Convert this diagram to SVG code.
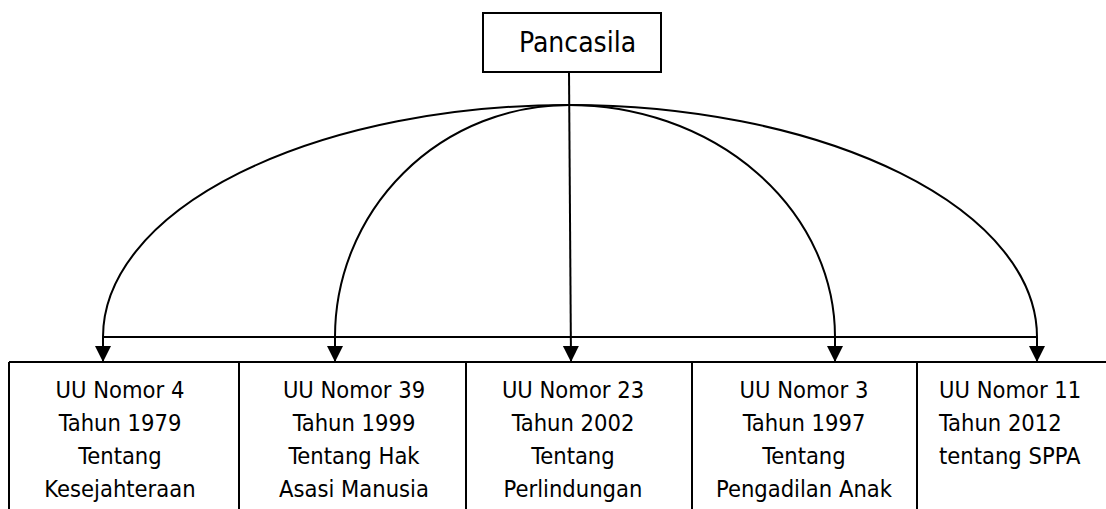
<svg xmlns="http://www.w3.org/2000/svg" width="1106" height="509" viewBox="0 0 1106 509">
<style>
.box{fill:#fff;stroke:#000;stroke-width:2}
.ln{fill:none;stroke:#000;stroke-width:2}
.t{font-family:"DejaVu Sans Condensed","DejaVu Sans",sans-serif;font-stretch:condensed;font-size:23.5px;fill:#000}
.c{text-anchor:middle}
</style>
<defs>
<marker id="ah" markerUnits="userSpaceOnUse" markerWidth="17" markerHeight="17" refX="16" refY="8" orient="auto">
<path d="M0,0 L16,8 L0,16 z" fill="#000"/>
</marker>
</defs>
<rect width="1106" height="509" fill="#fff"/>
<g id="pancasila">
<rect class="box" x="483" y="13" width="178" height="59"/>
<text class="t" x="519" y="52" style="font-size:28px">Pancasila</text>
</g>
<g id="connectors">
<path class="ln" d="M103,337 H1037"/>
<path class="ln" d="M569,105 A466,232 0 0 0 103,337 V362" marker-end="url(#ah)"/>
<path class="ln" d="M569,105 A234,232 0 0 0 335,337 V362" marker-end="url(#ah)"/>
<path class="ln" d="M569,72 L571,362" marker-end="url(#ah)"/>
<path class="ln" d="M569,105 A266,232 0 0 1 835,337 V362" marker-end="url(#ah)"/>
<path class="ln" d="M569,105 A468,232 0 0 1 1037,337 V362" marker-end="url(#ah)"/>
</g>
<g id="row">
<path class="ln" d="M9,362 H1106"/>
</g>
<g id="uu4">
<path class="ln" d="M9,362 V509"/>
<text class="t c" x="120" y="398">UU Nomor 4</text>
<text class="t c" x="120" y="431">Tahun 1979</text>
<text class="t c" x="120" y="464">Tentang</text>
<text class="t c" x="120" y="497">Kesejahteraan</text>
</g>
<g id="uu39">
<path class="ln" d="M239,362 V509"/>
<text class="t c" x="354" y="398">UU Nomor 39</text>
<text class="t c" x="354" y="431">Tahun 1999</text>
<text class="t c" x="354" y="464">Tentang Hak</text>
<text class="t c" x="354" y="497">Asasi Manusia</text>
</g>
<g id="uu23">
<path class="ln" d="M466,362 V509"/>
<text class="t c" x="573" y="398">UU Nomor 23</text>
<text class="t c" x="573" y="431">Tahun 2002</text>
<text class="t c" x="573" y="464">Tentang</text>
<text class="t c" x="573" y="497">Perlindungan</text>
</g>
<g id="uu3">
<path class="ln" d="M692,362 V509"/>
<text class="t c" x="804" y="398">UU Nomor 3</text>
<text class="t c" x="804" y="431">Tahun 1997</text>
<text class="t c" x="804" y="464">Tentang</text>
<text class="t c" x="804" y="497">Pengadilan Anak</text>
</g>
<g id="uu11">
<path class="ln" d="M917,362 V509"/>
<text class="t" x="939" y="398">UU Nomor 11</text>
<text class="t" x="939" y="431">Tahun 2012</text>
<text class="t" x="939" y="464">tentang SPPA</text>
</g>
</svg>
